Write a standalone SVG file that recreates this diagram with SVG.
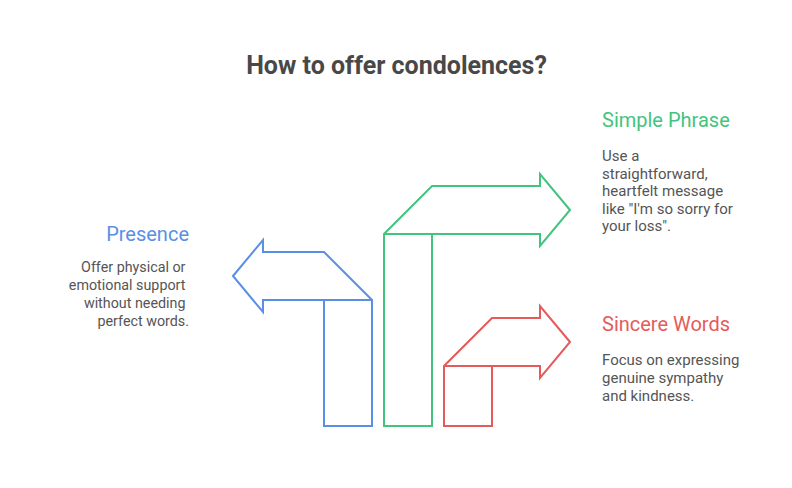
<svg xmlns="http://www.w3.org/2000/svg" width="792" height="488" viewBox="0 0 792 488">
<style>
.shape{fill:none;stroke-width:2;stroke-linejoin:miter}
.blue{stroke:#5A8FE5}
.green{stroke:#43C47E}
.red{stroke:#E55B5B}
.title{font-family:Roboto,"Liberation Sans",sans-serif;font-weight:bold;font-size:25px;fill:#484848}
.head{font-family:Roboto,"Liberation Sans",sans-serif;font-size:20px}
.body{font-family:Roboto,"Liberation Sans",sans-serif;font-size:15px;fill:#555555}
.left{font-size:14.3px}
</style>
<rect width="792" height="488" fill="#ffffff"/>
<text class="title" x="396.5" y="74" text-anchor="middle">How to offer condolences?</text>
<g id="connectors">
<g id="arrow-presence">
<path class="shape blue" d="M233,276 L263,240 L263,252 L324,252 L372,300 L372,426 L324,426 L324,300 L263,300 L263,312 Z M324,300 L372,300"/>
</g>
<g id="arrow-simple">
<path class="shape green" d="M570,210 L540,174 L540,186 L432,186 L384,234 L384,426 L432,426 L432,234 L540,234 L540,246 Z M384,234 L432,234"/>
</g>
<g id="arrow-sincere">
<path class="shape red" d="M570,342 L540,306 L540,318 L492,318 L444,366 L444,426 L492,426 L492,366 L540,366 L540,378 Z M444,366 L492,366"/>
</g>
</g>
<g id="presence">
<text class="head" x="189" y="241" text-anchor="end" fill="#5A8FE5">Presence</text>
<text class="body left" text-anchor="end">
<tspan x="189" y="272">Offer physical or</tspan>
<tspan x="189" y="290">emotional support</tspan>
<tspan x="189" y="308">without needing</tspan>
<tspan x="189" y="326">perfect words.</tspan>
</text>
</g>
<g id="simple-phrase">
<text class="head" x="602" y="127" fill="#43C47E">Simple Phrase</text>
<text class="body">
<tspan x="602" y="161">Use a</tspan>
<tspan x="602" y="178.5">straightforward,</tspan>
<tspan x="602" y="196">heartfelt message</tspan>
<tspan x="602" y="213.5">like "I'm so sorry for</tspan>
<tspan x="602" y="231">your loss".</tspan>
</text>
</g>
<g id="sincere-words">
<text class="head" x="602" y="331" fill="#E55B5B">Sincere Words</text>
<text class="body">
<tspan x="602" y="365">Focus on expressing</tspan>
<tspan x="602" y="383">genuine sympathy</tspan>
<tspan x="602" y="401">and kindness.</tspan>
</text>
</g>
</svg>
